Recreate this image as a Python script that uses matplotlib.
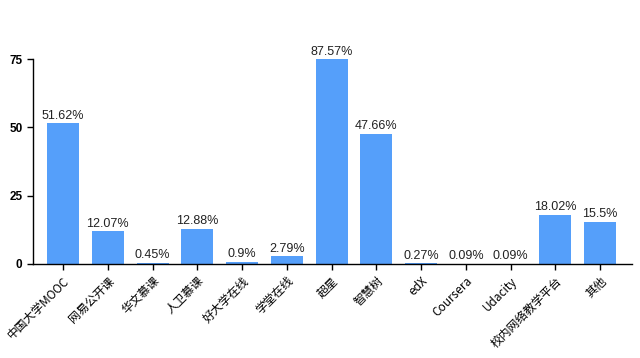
import matplotlib
matplotlib.use("Agg")
import matplotlib.pyplot as plt

plt.rcParams['font.family'] = ['Noto Sans CJK SC', 'DejaVu Sans']

# Platforms and share of respondents (%)
platforms = ["中国大学MOOC", "网易公开课", "华文慕课", "人卫慕课", "好大学在线", "学堂在线",
             "超星", "智慧树", "edX", "Coursera", "Udacity", "校内网络教学平台", "其他"]
shares = [51.62, 12.07, 0.45, 12.88, 0.9, 2.79, 87.57, 47.66, 0.27, 0.09, 0.09, 18.02, 15.5]
labels = ["51.62%", "12.07%", "0.45%", "12.88%", "0.9%", "2.79%", "87.57%", "47.66%",
          "0.27%", "0.09%", "0.09%", "18.02%", "15.5%"]
y_max = 75
y_ticks = [0, 25, 50, 75]

fig = plt.figure(figsize=(6.4, 3.58), dpi=100)
ax = fig.add_axes([0.0516, 0.2626, 0.9359, 0.5724])

x = list(range(len(platforms)))
ax.bar(x, shares, width=0.715, color="#559ffa")

for xi, v, lab in zip(x, shares, labels):
    ax.text(xi, min(v, y_max) + 0.5, lab, ha="center", va="bottom",
            fontsize=9, family="Liberation Sans", color="#222222")

ax.set_ylim(0, y_max)
ax.set_xlim(-0.67, 12.71)
ax.set_yticks(y_ticks)
ax.set_xticks(x)
ax.set_xticklabels(platforms, rotation=45, ha="right", rotation_mode="anchor", fontsize=8.5)
for t in ax.get_yticklabels():
    t.set_fontsize(8.5)
    t.set_family("Liberation Sans")
    t.set_fontweight("bold")
ax.tick_params(axis="both", length=4, width=1, colors="black")
ax.spines["top"].set_visible(False)
ax.spines["right"].set_visible(False)
ax.spines["left"].set_linewidth(1)
ax.spines["bottom"].set_linewidth(1)

fig.savefig("out.png", dpi=100)
